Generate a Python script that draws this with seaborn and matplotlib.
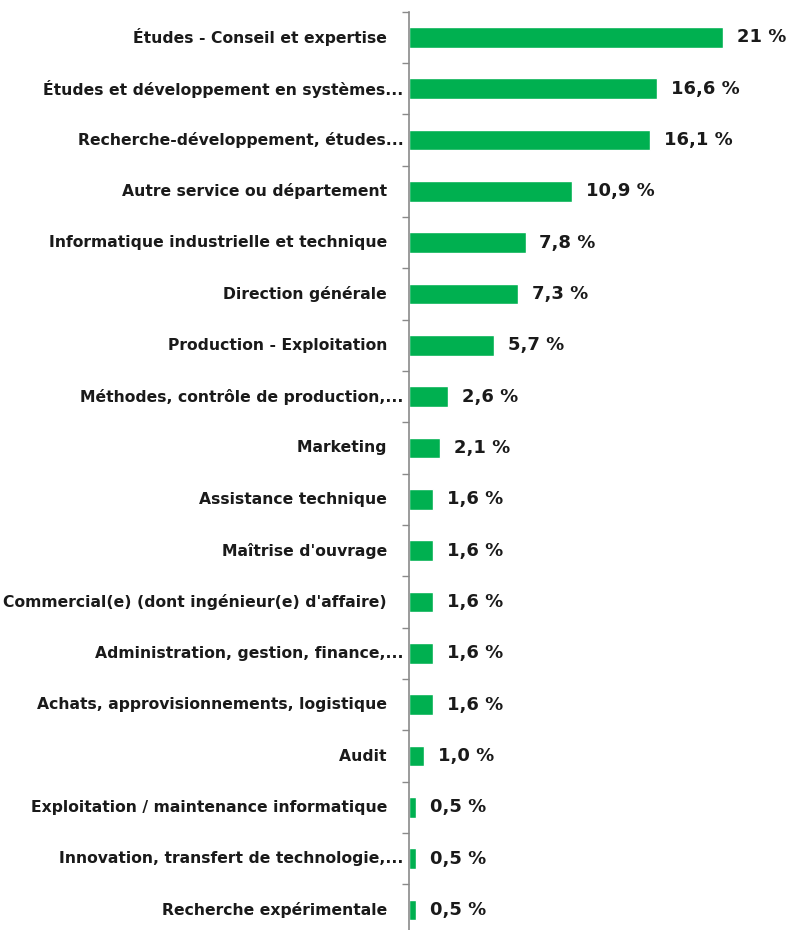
import matplotlib
matplotlib.use("Agg")
import matplotlib.pyplot as plt
import seaborn as sns
import pandas as pd
import numpy as np

categories = [
    "Études - Conseil et expertise",
    "Études et développement en systèmes...",
    "Recherche-développement, études...",
    "Autre service ou département",
    "Informatique industrielle et technique",
    "Direction générale",
    "Production - Exploitation",
    "Méthodes, contrôle de production,...",
    "Marketing",
    "Assistance technique",
    "Maîtrise d'ouvrage",
    "Commercial(e) (dont ingénieur(e) d'affaire)",
    "Administration, gestion, finance,...",
    "Achats, approvisionnements, logistique",
    "Audit",
    "Exploitation / maintenance informatique",
    "Innovation, transfert de technologie,...",
    "Recherche expérimentale",
]
values = [21.0, 16.6, 16.1, 10.9, 7.8, 7.3, 5.7, 2.6, 2.1, 1.6, 1.6, 1.6, 1.6, 1.6, 1.0, 0.5, 0.5, 0.5]
value_labels = ["21 %", "16,6 %", "16,1 %", "10,9 %", "7,8 %", "7,3 %", "5,7 %", "2,6 %", "2,1 %",
                "1,6 %", "1,6 %", "1,6 %", "1,6 %", "1,6 %", "1,0 %", "0,5 %", "0,5 %", "0,5 %"]

sns.set_theme(style="white")
plt.rcParams["font.family"] = ["DejaVu Sans"]

df = pd.DataFrame({"cat": categories, "val": values})

W, H = 792, 930
fig = plt.figure(figsize=(W / 100, H / 100), dpi=100)
ax_left, ax_right = 409, 784
ax_top, ax_bot = 11.6, 935.7
ax = fig.add_axes([ax_left / W, 1 - ax_bot / H, (ax_right - ax_left) / W, (ax_bot - ax_top) / H])

sns.barplot(data=df, y="cat", x="val", color="#00B050", saturation=1, width=0.4, ax=ax, orient="h")

ax.set_xlim(0, (ax_right - ax_left) / 14.95)
ax.set_ylim(len(categories) - 0.5, -0.5)
for s in ["top", "right", "bottom"]:
    ax.spines[s].set_visible(False)
ax.spines["left"].set_color("#8a8a8a")
ax.spines["left"].set_linewidth(1.2)
ax.set_xticks([])
ax.set_xlabel("")
ax.set_ylabel("")

labels_disp = [c if c.endswith("...") else c + "   " for c in categories]
ax.set_yticks(range(len(categories)))
ax.set_yticklabels(labels_disp, fontsize=11.25, fontweight="bold", color="#1a1a1a")
for t in ax.get_yticklabels():
    t.set_verticalalignment("center")
ax.tick_params(axis="y", which="major", left=True, length=0, pad=4)
ax.set_yticks(np.arange(-0.5, len(categories), 1.0), minor=True)
ax.tick_params(axis="y", which="minor", left=True, length=5, width=1, color="#8a8a8a", direction="out")

ax.bar_label(ax.containers[0], labels=value_labels, padding=10, fontsize=13, fontweight="bold", color="#1a1a1a")

fig.savefig("out.png", dpi=100)
